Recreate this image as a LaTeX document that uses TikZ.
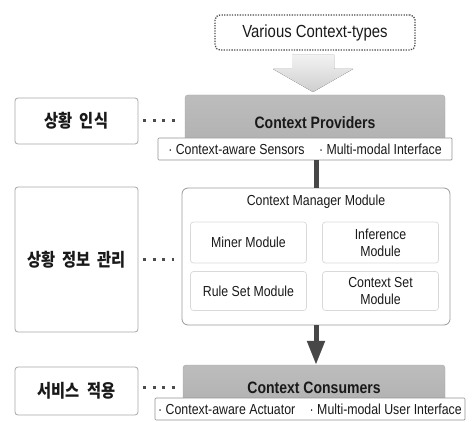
\documentclass[tikz,border=0pt]{standalone}
\usepackage{fontspec}
\setmainfont{Liberation Sans}[FakeStretch=0.85]
\newfontfamily\kr{Noto Sans CJK KR}[FakeStretch=0.85, WordSpace=2]
\usetikzlibrary{arrows.meta, positioning}

\begin{document}
\begin{tikzpicture}[
		x=1pt, y=-1pt,
		every node/.style={rectangle, inner sep=0pt, text=black!90, align=center, font=\fontsize{14.5}{17}\selectfont},
		box/.style={draw=gray!70, line width=0.8pt, rounded corners=3pt},
		stage/.style={box, minimum width=123pt, font=\kr\bfseries\fontsize{18}{20}\selectfont},
		layer/.style={draw=gray!70, top color=gray!52, bottom color=gray!62, rounded corners=3pt, minimum width=260pt, font=\bfseries\fontsize{16.5}{18}\selectfont},
		strip/.style={draw=gray!85, line width=0.7pt, fill=white, rounded corners=1pt, minimum height=22pt},
		module/.style={draw=gray!30, line width=0.7pt, rounded corners=3pt, minimum width=116pt},
		dots/.style={draw=black!70, line width=3pt, dash pattern=on 3pt off 6.5pt, shorten <=5pt, shorten >=8pt},
		link/.style={draw=black!72, line width=5pt}
	]
  \useasboundingbox (0, 0) rectangle (473, 422);

  % input
  \node (types) [draw=black!70, line width=1.3pt, dash pattern=on 1.3pt off 1.3pt, rounded corners=5pt, minimum width=200pt, minimum height=35pt, font=\fontsize{17.5}{20}\selectfont] at (315, 32.5) {Various Context-types};
  \coordinate (tip) at (313, 92);
  \fill[top color=gray!10, bottom color=gray!38] (tip) -- ++(-40, -23) -- ++(19, 0) -- ++(0, -14) -- ++(42, 0) -- ++(0, 14) -- ++(19, 0) -- cycle;

  % right column
  \node (prov) [layer, minimum height=55pt] at (315, 122.5) {Context Providers};
  \node (provstrip) [strip, minimum width=294pt] at (305, 149) {· Context-aware Sensors\quad · Multi-modal Interface};

  \node (mgr) [box, draw=gray!80, rounded corners=6pt, minimum width=268pt, minimum height=137pt] at (316, 256.5) {};
  \node (mgrtitle) [below=7pt of mgr.north] {Context Manager Module};
  \node (miner) [module, minimum height=41pt] at (248.5, 242.5) {Miner Module};
  \node (infer) [module, minimum height=41pt] at (380.5, 242.5) {Inference\\Module};
  \node (rules) [module, minimum height=39pt] at (248.5, 291) {Rule Set Module};
  \node (cset) [module, minimum height=39pt] at (380.5, 291) {Context Set\\Module};

  \node (cons) [layer, minimum width=262pt, minimum height=45pt] at (314, 387.5) {Context Consumers};
  \node (consstrip) [strip, minimum width=310pt] at (310, 409) {· Context-aware Actuator\quad · Multi-modal User Interface};

  % left column
  \node (rec) [stage, minimum height=46pt] at (76.5, 121) {상황 인식};
  \node (mgmt) [stage, minimum height=145pt] at (76.5, 259.5) {상황 정보 관리};
  \node (svc) [stage, minimum height=48pt] at (76.5, 391) {서비스 적용};

  \draw[link] (mgr.north |- provstrip.south) -- (mgr.north);
  \draw[link, -{Triangle[width=17pt, length=24pt]}] (mgr.south) -- (mgr.south |- cons.north);

  \draw[dots] (rec.east) -- (rec.east -| prov.west);
  \draw[dots] (mgmt.east) -- (mgmt.east -| mgr.west);
  \draw[dots] (svc.east |- cons.west) -- (cons.west);
\end{tikzpicture}
\end{document}
